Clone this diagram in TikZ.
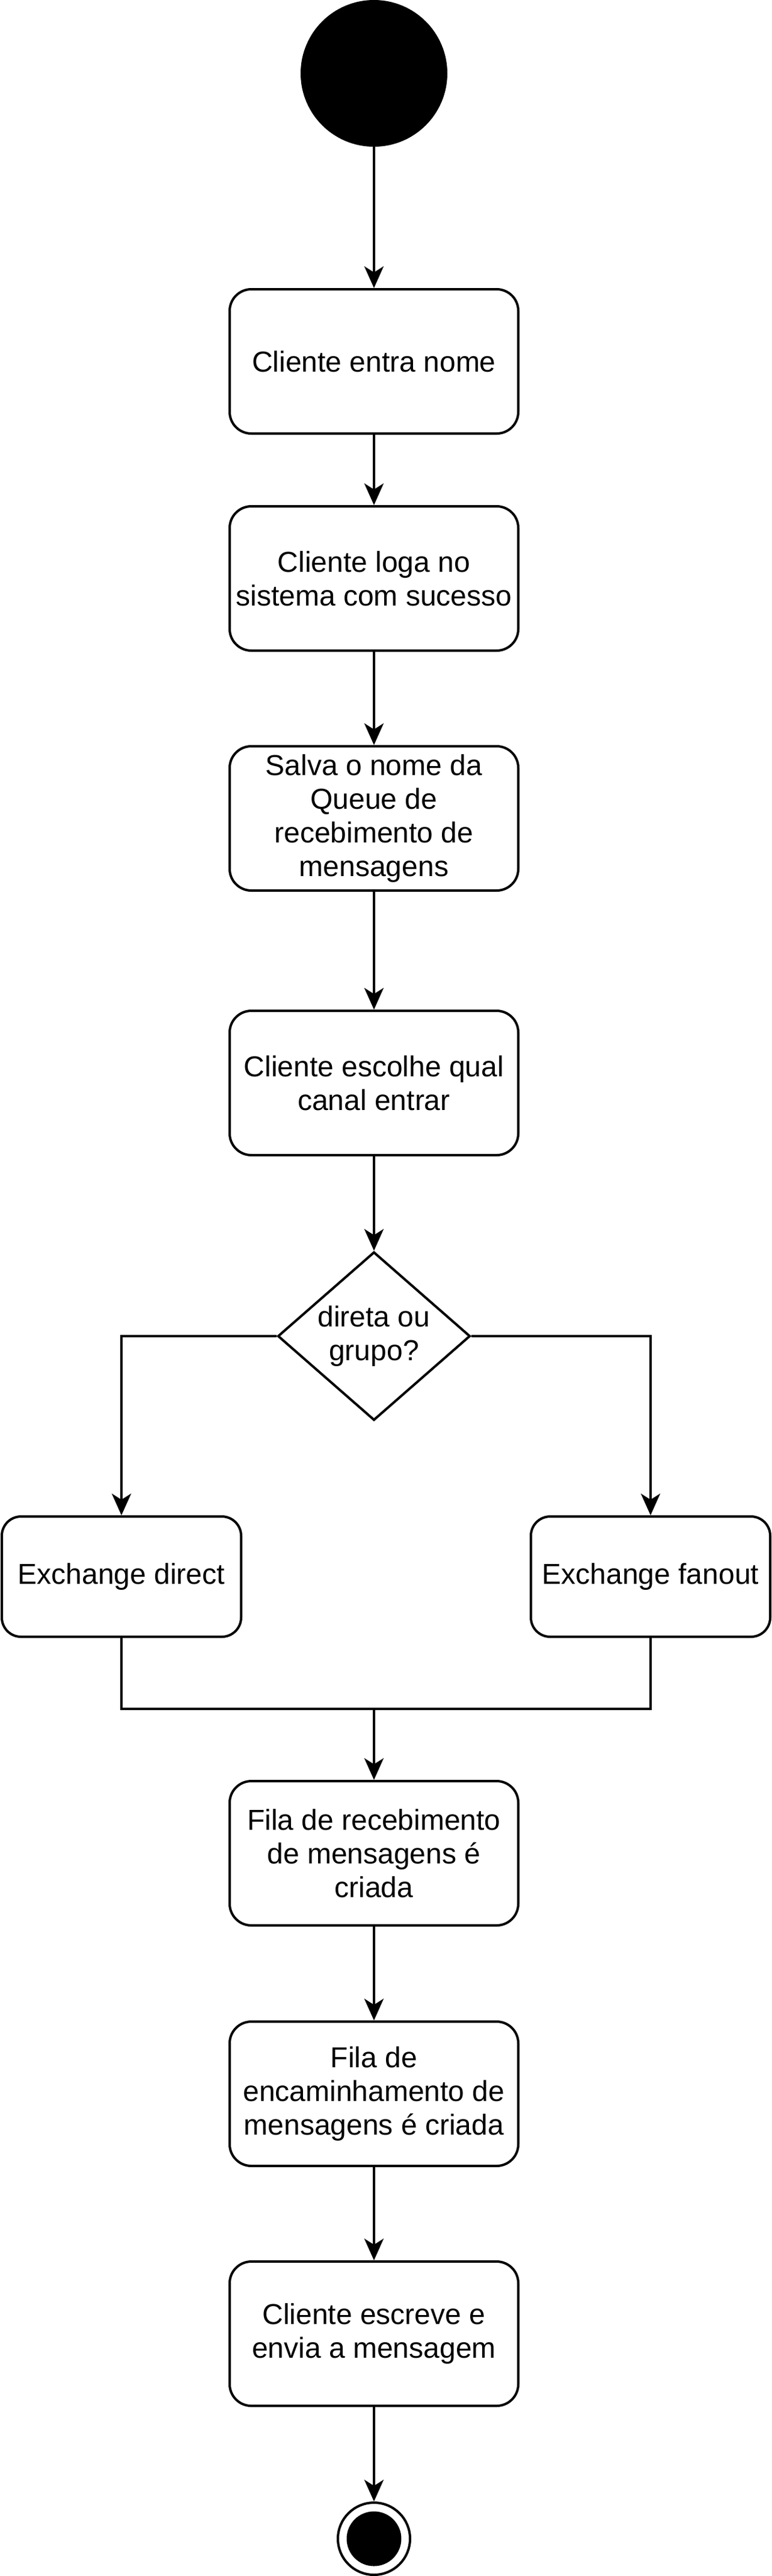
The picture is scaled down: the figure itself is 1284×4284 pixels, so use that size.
\documentclass[tikz,border=0pt]{standalone}
\usepackage{fontspec}
\setmainfont{Liberation Sans}
\usetikzlibrary{shapes.geometric,arrows.meta}
\begin{document}
\begin{tikzpicture}[x=0.25pt,y=-0.25pt,
  font=\fontsize{12}{14}\selectfont,
  line width=1pt,
  actbox/.style={draw=black, fill=white, rounded corners=9pt, minimum width=120pt, minimum height=60pt, inner sep=0pt, align=center},
  exbox/.style={draw=black, fill=white, rounded corners=8pt, minimum width=99.5pt, minimum height=50pt, inner sep=0pt, align=center},
  decision/.style={draw=black, fill=white, diamond, shape aspect=1.14, minimum width=80pt, minimum height=70pt, inner sep=0pt, align=center},
  arr/.style={-{Stealth[length=9pt,width=8pt,inset=2.5pt]}}
]
\fill[white] (0,0) rectangle (1284,4284);
\useasboundingbox (0,0) rectangle (1284,4284);

\node[circle, draw=black, fill=black, minimum size=60pt, inner sep=0pt] (start) at (622,122) {};
\node[actbox] (b1) at (622,601) {Cliente entra nome};
\node[actbox] (b2) at (622,962) {Cliente loga no\\sistema com sucesso};
\node[actbox] (b3) at (622,1361) {Salva o nome da\\Queue de\\recebimento de\\mensagens};
\node[actbox] (b4) at (622,1801) {Cliente escolhe qual\\canal entrar};
\node[decision] (dia) at (622,2222) {direta ou\\grupo?};
\node[exbox] (exd) at (202,2622) {Exchange direct};
\node[exbox] (exf) at (1082,2622) {Exchange fanout};
\coordinate (j) at (622,2842);
\node[actbox] (b5) at (622,3082) {Fila de recebimento\\de mensagens é\\criada};
\node[actbox] (b6) at (622,3482) {Fila de\\encaminhamento de\\mensagens é criada};
\node[actbox] (b7) at (622,3881) {Cliente escreve e\\envia a mensagem};
\node[circle, draw=black, fill=white, minimum size=30pt, inner sep=0pt] (end) at (622,4222) {};
\node[circle, fill=black, minimum size=22.75pt, inner sep=0pt] (endin) at (end.center) {};

\draw[arr] (start) -- (b1);
\draw[arr] (b1) -- (b2);
\draw[arr] (b2) -- (b3);
\draw[arr] (b3) -- (b4);
\draw[arr] (b4) -- (dia);
\draw[arr] (dia.west) -| (exd.north);
\draw[arr] (dia.east) -| (exf.north);
\draw (exd.south) -- (exd.south |- j) -- (exf.south |- j) -- (exf.south);
\draw[arr] (j) -- (b5);
\draw[arr] (b5) -- (b6);
\draw[arr] (b6) -- (b7);
\draw[arr] (b7) -- (end);
\end{tikzpicture}
\end{document}
